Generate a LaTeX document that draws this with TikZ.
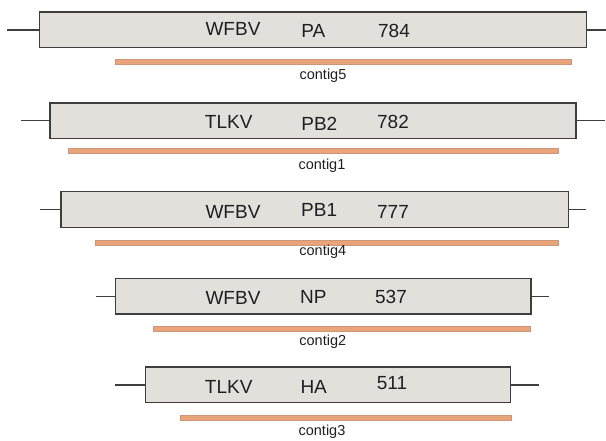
\documentclass[tikz,border=0pt]{standalone}
\usepackage{fontspec}
\setmainfont{Liberation Sans}
\usepackage{tikz}
\definecolor{segfill}{RGB}{227,223,219}
\definecolor{segedge}{RGB}{62,62,62}
\definecolor{contigfill}{RGB}{234,164,122}
\definecolor{contigedge}{RGB}{205,150,120}

\begin{document}
\begin{tikzpicture}[x=1pt,y=-1pt,
  seg/.style={draw=segedge, fill=segfill, line width=1.3pt, minimum height=35.6pt, inner sep=0pt, outer sep=0pt},
  contig/.style={draw=contigedge, fill=contigfill, line width=0.4pt, minimum height=5pt, inner sep=0pt, outer sep=0pt},
  tail/.style={draw=segedge, line width=1.3pt},
  lbl/.style={anchor=base, inner sep=0pt, text=black!88, font=\fontsize{19}{22}\selectfont},
  clbl/.style={anchor=base, inner sep=0pt, text=black!88, font=\fontsize{14.5}{17}\selectfont}]
\useasboundingbox (0,0) rectangle (606,441);

\node[seg, minimum width=547pt] (pa) at (313.2,29.9) {};
\node[seg, minimum width=526pt] (pb2) at (313,120.7) {};
\node[seg, minimum width=507.3pt] (pb1) at (314.7,209.5) {};
\node[seg, minimum width=415.3pt] (np) at (323.4,296.2) {};
\node[seg, minimum width=364.6pt] (ha) at (328,384.9) {};

\coordinate (paL) at (7.3,29.9);
\coordinate (paR) at (606,29.9);
\coordinate (pb2L) at (21,120.7);
\coordinate (pb2R) at (605,120.7);
\coordinate (pb1L) at (40,209.5);
\coordinate (pb1R) at (586.3,209.5);
\coordinate (npL) at (96.3,296.2);
\coordinate (npR) at (548.7,296.2);
\coordinate (haL) at (115.3,384.9);
\coordinate (haR) at (539,384.9);

\draw[tail] (paL) -- (pa.west);
\draw[tail] (pa.east) -- (paR);
\draw[tail] (pb2L) -- (pb2.west);
\draw[tail] (pb2.east) -- (pb2R);
\draw[tail] (pb1L) -- (pb1.west);
\draw[tail] (pb1.east) -- (pb1R);
\draw[tail] (npL) -- (np.west);
\draw[tail] (np.east) -- (npR);
\draw[tail] (haL) -- (ha.west);
\draw[tail] (ha.east) -- (haR);

\node[contig, minimum width=455.4pt] (c5) at (343,61.8) {};
\node[contig, minimum width=490.3pt] (c1) at (312.9,151.2) {};
\node[contig, minimum width=463pt] (c4) at (326.5,243) {};
\node[contig, minimum width=377pt] (c2) at (341.5,329) {};
\node[contig, minimum width=331.3pt] (c3) at (345.7,417.3) {};

\node[lbl] (paV) at (233,36) {WFBV};
\node[lbl] (paG) at (313.3,37.3) {PA};
\node[lbl] (paN) at (394,37.3) {784};
\node[clbl] (c5L) at (323,79.5) {contig5};

\node[lbl] (pb2V) at (228.7,129) {TLKV};
\node[lbl] (pb2G) at (319.3,130.7) {PB2};
\node[lbl] (pb2N) at (393,129) {782};
\node[clbl] (c1L) at (322,169.5) {contig1};

\node[lbl] (pb1V) at (233,218.3) {WFBV};
\node[lbl] (pb1G) at (319.2,216.7) {PB1};
\node[lbl] (pb1N) at (393,218.3) {777};
\node[clbl] (c4L) at (322.8,256) {contig4};

\node[lbl] (npV) at (233,305) {WFBV};
\node[lbl] (npG) at (313.3,304) {NP};
\node[lbl] (npN) at (391,304) {537};
\node[clbl] (c2L) at (322.8,345) {contig2};

\node[lbl] (haV) at (228.7,393.3) {TLKV};
\node[lbl] (haG) at (313.7,393.3) {HA};
\node[lbl] (haN) at (392,389.3) {511};
\node[clbl] (c3L) at (322,435) {contig3};
\end{tikzpicture}
\end{document}
